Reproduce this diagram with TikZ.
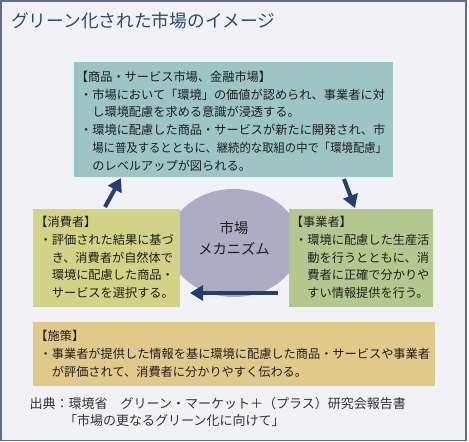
\documentclass[tikz,border=0pt]{standalone}
\usepackage{fontspec}
\setmainfont{Noto Sans CJK JP}
\usepackage{graphicx}
\usetikzlibrary{arrows.meta,shapes.geometric}
\definecolor{bgc}{HTML}{F2F2F6}
\definecolor{framec}{HTML}{5A6D96}
\definecolor{topc}{HTML}{9EC5C6}
\definecolor{leftc}{HTML}{D2D386}
\definecolor{rightc}{HTML}{B3C88F}
\definecolor{botc}{HTML}{E0C98B}
\definecolor{ellc}{HTML}{AEACC3}
\definecolor{arrc}{HTML}{243F6E}
\definecolor{titlec}{HTML}{2B4A7B}
\definecolor{txtc}{HTML}{1E1E1E}
\definecolor{srcc}{HTML}{333333}
\begin{document}
\begin{tikzpicture}[x=1pt,y=-1pt,
  panel/.style={draw=none,rectangle,inner sep=0pt,anchor=north west},
  boxtext/.style={anchor=north west,inner sep=0pt,align=left,text=txtc,
    font=\fontsize{12.2}{17.7}\selectfont},
  flow/.style={draw=arrc,line width=4pt,-{Triangle[length=13pt,width=15pt]}},
  srctext/.style={anchor=base west,inner sep=0pt,text=srcc,
    font=\fontsize{13}{17}\selectfont}]
\useasboundingbox (0,0) rectangle (469,442);
\fill[white] (0,0) rectangle (469,442);
\draw[framec,line width=1.5pt,fill=bgc] (0.75,0.75) rectangle (466,440.25);

% title
\node[anchor=base west,inner sep=0pt,text=titlec,font=\fontsize{17.7}{20}\selectfont]
  (title) at (11,27.7) {グリーン化された市場のイメージ};

% ellipse (market mechanism)
\node[ellipse,fill=ellc,draw=none,minimum width=132pt,minimum height=108pt,inner sep=0pt]
  (mech) at (234,243) {};

% panels
\node[panel,fill=topc,minimum width=319pt,minimum height=115pt] (topbox) at (74,62) {};
\node[panel,fill=leftc,minimum width=147pt,minimum height=98pt] (leftbox) at (33,209) {};
\node[panel,fill=rightc,minimum width=144pt,minimum height=98pt] (rightbox) at (289,209) {};
\node[panel,fill=botc,minimum width=402pt,minimum height=64pt] (botbox) at (33,322) {};

% texts
\node[boxtext] (toptext) at (80,69.3) {\rule{0pt}{12pt}\hspace*{-0.35em}【商品・サービス市場、金融市場】\\
・市場において「環境」の価値が認められ、事業者に対\\
\hspace*{1em}し環境配慮を求める意識が浸透する。\\
・環境に配慮した商品・サービスが新たに開発され、市\\
\hspace*{1em}\scalebox{0.93}[1]{場に普及するとともに、継続的な取組の中で「環境配慮」}\\
\hspace*{1em}のレベルアップが図られる。};

\node[boxtext] (lefttext) at (39.5,214.6) {\rule{0pt}{12pt}\hspace*{-0.35em}【消費者】\\
・評価された結果に基づ\\
\hspace*{1em}き、消費者が自然体で\\
\hspace*{1em}環境に配慮した商品・\\
\hspace*{1em}サービスを選択する。};

\node[boxtext] (righttext) at (295,214.6) {\rule{0pt}{12pt}\hspace*{-0.35em}【事業者】\\
・環境に配慮した生産活\\
\hspace*{1em}動を行うとともに、消\\
\hspace*{1em}費者に正確で分かりや\\
\hspace*{1em}すい情報提供を行う。};

\node[boxtext,font=\fontsize{12.2}{18}\selectfont] (bottext) at (39.5,328.6) {\rule{0pt}{12pt}\hspace*{-0.35em}【施策】\\
・事業者が提供した情報を基に環境に配慮した商品・サービスや事業者\\
\hspace*{1em}が評価されて、消費者に分かりやすく伝わる。};

\node[anchor=north,inner sep=0pt,align=center,text=txtc,font=\fontsize{14.3}{21}\selectfont]
  (mechtext) at (234,219.4) {\rule{0pt}{14pt}市場\\メカニズム};

% arrows
\coordinate (a1s) at (105,207);
\coordinate (a1e) at (121,178);
\coordinate (a2s) at (344,179);
\coordinate (a2e) at (355,208);
\coordinate (a3s) at (278,293);
\coordinate (a3e) at (190,293);
\draw[flow] (a1s) -- (a1e);
\draw[flow] (a2s) -- (a2e);
\draw[flow] (a3s) -- (a3e);

% source
\node[srctext] (src1) at (29.5,408.4) {出典：環境省　グリーン・マーケット＋（プラス）研究会報告書};
\node[srctext] (src2) at (64,425.9) {「市場の更なるグリーン化に向けて」};
\end{tikzpicture}
\end{document}
